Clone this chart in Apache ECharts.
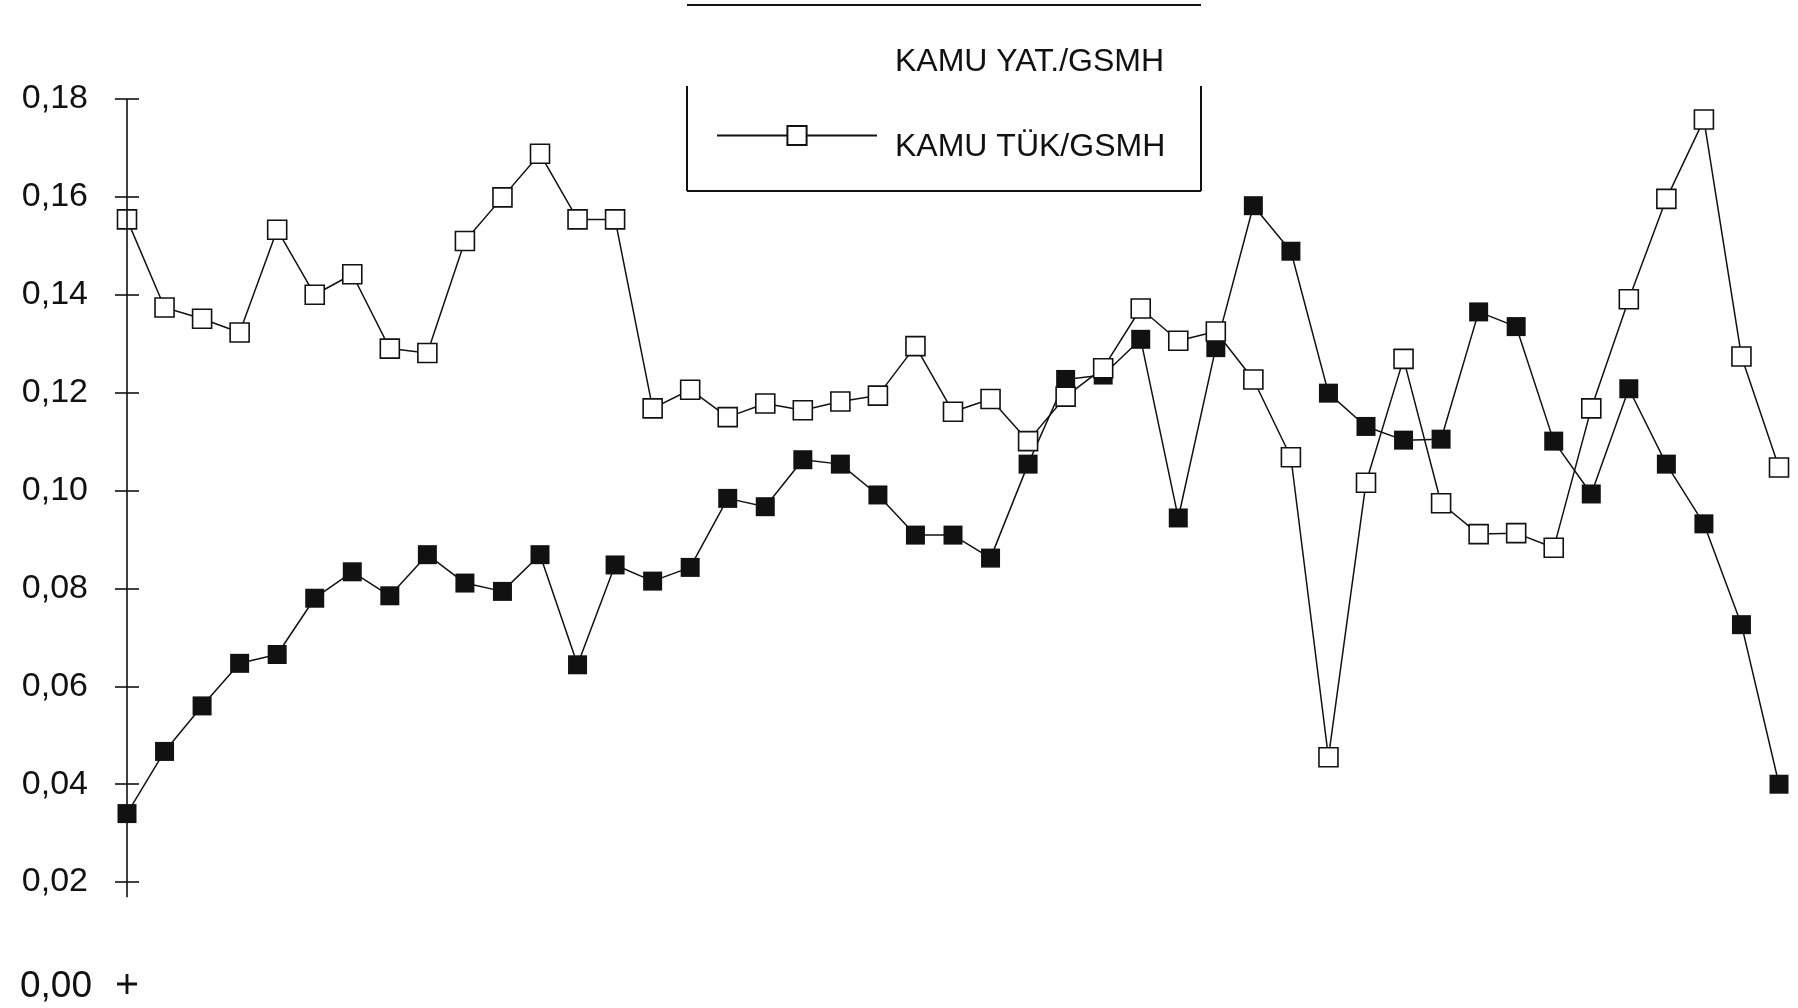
<!DOCTYPE html>
<html>
<head>
<meta charset="utf-8">
<style>
  html, body { margin: 0; padding: 0; background: #ffffff; }
  #chart { width: 1798px; height: 1008px; }
</style>
<script src="https://cdn.jsdelivr.net/npm/echarts@6/dist/echarts.min.js"></script>
</head>
<body>
<div id="chart"></div>
<script>
// ---- data ----
var categories = ['1','2','3','4','5','6','7','8','9','10','11','12','13','14','15',
  '16','17','18','19','20','21','22','23','24','25','26','27','28','29','30',
  '31','32','33','34','35','36','37','38','39','40','41','42','43','44','45'];

var seriesNames = ['KAMU YAT./GSMH', 'KAMU TÜK/GSMH'];

var kamuYat = [0.034, 0.0467, 0.056, 0.0647, 0.0665, 0.078, 0.0834, 0.0785, 0.0869, 0.0811,
  0.0794, 0.0869, 0.0644, 0.0848, 0.0815, 0.0843, 0.0984, 0.0967, 0.1063, 0.1054,
  0.0991, 0.0909, 0.0909, 0.0862, 0.1054, 0.1227, 0.1236, 0.1309, 0.0944, 0.1292,
  0.1582, 0.1489, 0.1199, 0.1131, 0.1103, 0.1105, 0.1365, 0.1335, 0.1101, 0.0993,
  0.1208, 0.1054, 0.0932, 0.0726, 0.040];

var kamuTuk = [0.1554, 0.1374, 0.1351, 0.1323, 0.1533, 0.140, 0.1442, 0.129, 0.1281, 0.151,
  0.1599, 0.1688, 0.1554, 0.1554, 0.1168, 0.1206, 0.115, 0.1178, 0.1164, 0.1182,
  0.1194, 0.1295, 0.1161, 0.1187, 0.1101, 0.1192, 0.125, 0.1372, 0.1306, 0.1325,
  0.1227, 0.1068, 0.0455, 0.1016, 0.1269, 0.0974, 0.0911, 0.0913, 0.0883, 0.1168,
  0.1391, 0.1596, 0.1758, 0.1274, 0.1047];

var yTicks = [0.02, 0.04, 0.06, 0.08, 0.10, 0.12, 0.14, 0.16, 0.18];
var axisTop = 0.18;
var axisBottom = 0.0169;

// ---- chart ----
var chart = echarts.init(document.getElementById('chart'), null, { renderer: 'canvas' });
var ink = '#111111';
var font = '"Liberation Sans", Arial, Helvetica, sans-serif';

function fmt(v) {
  if (Math.abs(v) < 1e-9) return '{z|0,00}';
  return '{a|' + v.toFixed(2).replace('.', ',') + '}';
}

var option = {
  backgroundColor: '#ffffff',
  animation: false,
  grid: { left: 127, right: 19, top: 99, bottom: 28, containLabel: false },
  legend: {
    orient: 'vertical',
    left: 716,
    top: 23,
    padding: 0,
    itemWidth: 160,
    itemHeight: 24,
    itemGap: 30,
    selectedMode: false,
    data: [
      { name: seriesNames[0], icon: 'none' },
      { name: seriesNames[1] }
    ],
    formatter: function (name) { return '{t|' + name + '}'; },
    textStyle: {
      color: ink,
      fontFamily: font,
      fontSize: 32,
      rich: {
        t: {
          color: ink,
          fontFamily: font,
          fontSize: 32,
          lineHeight: 40,
          padding: [23, 0, 0, 13]
        }
      }
    }
  },
  xAxis: {
    type: 'category',
    data: categories,
    boundaryGap: false,
    axisLine: { show: false },
    axisTick: { show: false },
    axisLabel: { show: false },
    splitLine: { show: false }
  },
  yAxis: [
    {
      type: 'value',
      min: 0,
      max: 0.18,
      interval: 0.02,
      position: 'left',
      axisLine: { show: false },
      splitLine: { show: false },
      axisTick: {
        show: true,
        inside: false,
        length: 12,
        customValues: yTicks,
        lineStyle: { color: ink, width: 1.6 }
      },
      axisLabel: {
        show: true,
        margin: 35,
        formatter: fmt,
        rich: {
          a: { fontFamily: font, fontSize: 34, color: ink, padding: [0, 4, 0, 0] },
          z: { fontFamily: font, fontSize: 37, color: ink, padding: [13, 0, 0, 0] }
        }
      }
    },
    {
      type: 'value',
      min: 0,
      max: 0.18,
      interval: 0.02,
      position: 'left',
      axisLine: { show: false },
      splitLine: { show: false },
      axisLabel: { show: false },
      axisTick: {
        show: true,
        inside: true,
        length: 12,
        customValues: yTicks,
        lineStyle: { color: ink, width: 1.6 }
      }
    }
  ],
  graphic: [
    { type: 'line', silent: true, shape: { x1: 687, y1: 5, x2: 1201, y2: 5 }, style: { stroke: ink, lineWidth: 2 } },
    { type: 'line', silent: true, shape: { x1: 687, y1: 86, x2: 687, y2: 191 }, style: { stroke: ink, lineWidth: 2 } },
    { type: 'line', silent: true, shape: { x1: 1201, y1: 86, x2: 1201, y2: 191 }, style: { stroke: ink, lineWidth: 2 } },
    { type: 'line', silent: true, shape: { x1: 687, y1: 191, x2: 1201, y2: 191 }, style: { stroke: ink, lineWidth: 2 } }
  ],
  series: [
    {
      name: seriesNames[0],
      type: 'line',
      data: kamuYat,
      symbol: 'rect',
      symbolSize: 19,
      showAllSymbol: true,
      lineStyle: { color: ink, width: 1.5 },
      itemStyle: { color: ink, borderColor: ink, borderWidth: 0 },
      z: 2,
      markLine: {
        silent: true,
        symbol: ['none', 'none'],
        label: { show: false },
        lineStyle: { color: ink, width: 1.6, type: 'solid' },
        data: [[
          { coord: [categories[0], axisTop] },
          { coord: [categories[0], axisBottom] }
        ]]
      },
      markPoint: {
        silent: true,
        symbol: 'path://M0,8.6H20V11.4H0Z M8.6,0H11.4V20H8.6Z',
        symbolSize: 20,
        symbolOffset: [0, 4],
        itemStyle: { color: ink },
        label: { show: false },
        data: [{ coord: [categories[0], 0] }]
      }
    },
    {
      name: seriesNames[1],
      type: 'line',
      data: kamuTuk,
      symbol: 'rect',
      symbolSize: 19,
      showAllSymbol: true,
      lineStyle: { color: ink, width: 1.5 },
      itemStyle: { color: '#ffffff', borderColor: ink, borderWidth: 1.6 },
      z: 3
    }
  ]
};

chart.setOption(option);
</script>
</body>
</html>
